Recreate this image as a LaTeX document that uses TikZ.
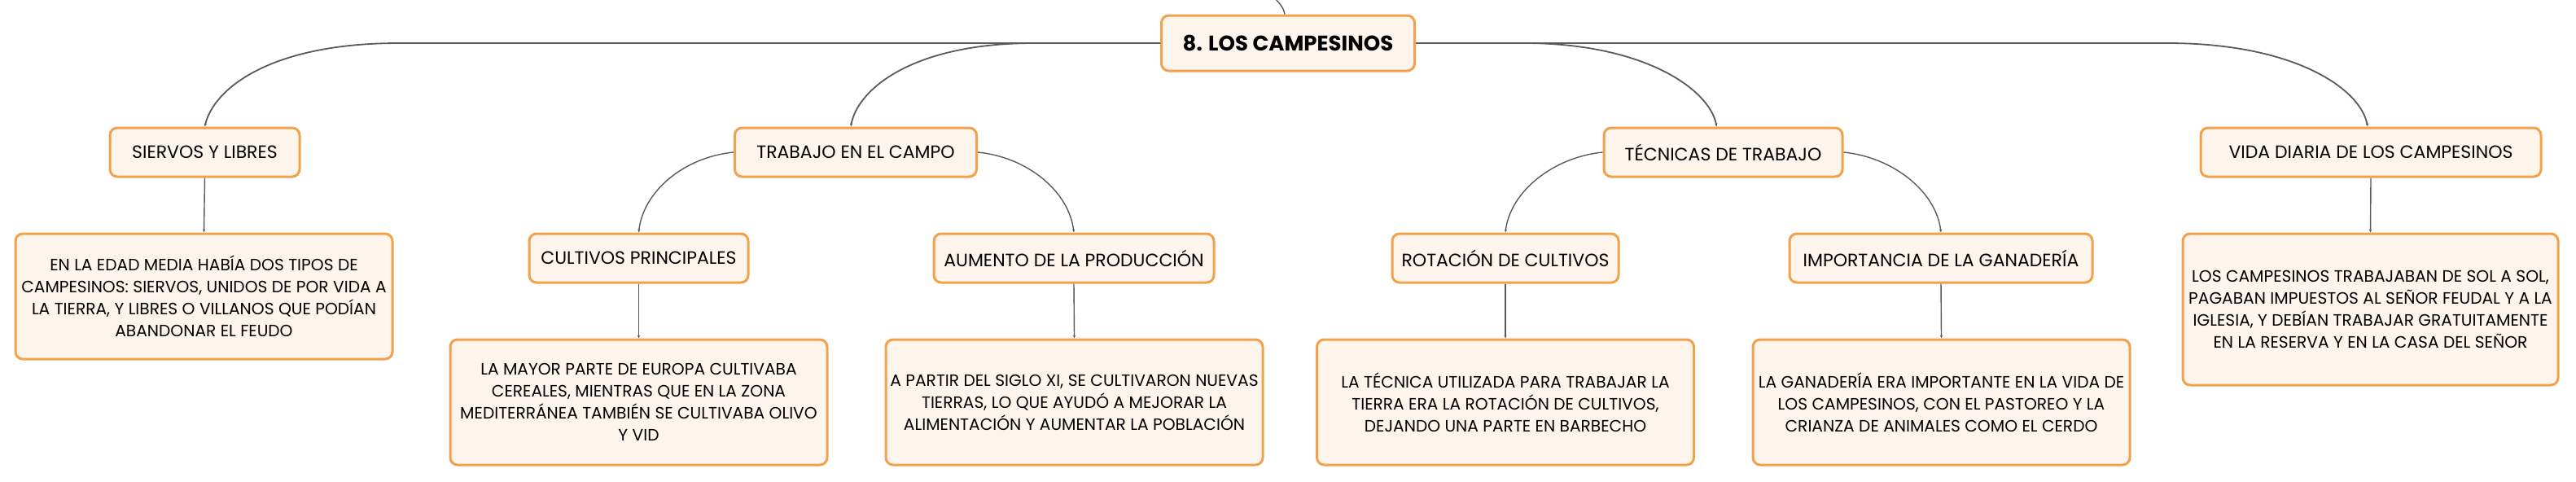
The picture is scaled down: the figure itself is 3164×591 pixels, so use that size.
\documentclass[tikz,border=0pt]{standalone}
\usepackage{fontspec}
\setmainfont{Poppins}
\usetikzlibrary{arrows.meta}
\definecolor{boxfill}{HTML}{FDF4EC}
\definecolor{boxline}{HTML}{F0A24C}
\definecolor{conncol}{HTML}{5A5A5A}
\tikzset{
  base/.style={draw=boxline, fill=boxfill, line width=1.5pt, rounded corners=4.5pt, align=center, inner sep=2pt, text=black},
  rootbox/.style={base, minimum width=155.5pt, minimum height=34pt, font=\fontsize{13}{15}\selectfont\bfseries},
  topic/.style={base, minimum height=30pt, font=\fontsize{11}{13}\selectfont},
  desc/.style={base, minimum width=231.5pt, minimum height=77pt, font=\fontsize{10.1}{13.5}\selectfont},
  conn/.style={draw=conncol, line width=0.7pt},
  mainconn/.style={draw=conncol, line width=0.9pt},
  tip/.style={-{Stealth[length=2pt,width=1.6pt]}}
}
\begin{document}
\begin{tikzpicture}[x=0.5pt,y=-0.5pt]
\useasboundingbox (0,0) rectangle (3164,591);
\clip (0,0) rectangle (3164,591);

\node[rootbox] (root) at (1582,53) {8. LOS CAMPESINOS};

\node[topic, minimum width=116.5pt] (sl) at (251.5,187) {SIERVOS Y LIBRES};
\node[desc] (sld) at (250.5,364) {EN LA EDAD MEDIA HABÍA DOS TIPOS DE\\CAMPESINOS: SIERVOS, UNIDOS DE POR VIDA A\\LA TIERRA, Y LIBRES O VILLANOS QUE PODÍAN\\ABANDONAR EL FEUDO};

\node[topic, minimum width=148.5pt] (tc) at (1051,187) {TRABAJO EN EL CAMPO};
\node[topic, minimum width=134.5pt] (cp) at (784.5,317) {CULTIVOS PRINCIPALES};
\node[desc] (cpd) at (784.5,494) {LA MAYOR PARTE DE EUROPA CULTIVABA\\CEREALES, MIENTRAS QUE EN LA ZONA\\MEDITERRÁNEA TAMBIÉN SE CULTIVABA OLIVO\\Y VID};
\node[topic, minimum width=172pt] (ap) at (1319,317) {AUMENTO DE LA PRODUCCIÓN};
\node[desc] (apd) at (1319.5,494) {A PARTIR DEL SIGLO XI, SE CULTIVARON NUEVAS\\TIERRAS, LO QUE AYUDÓ A MEJORAR LA\\ALIMENTACIÓN Y AUMENTAR LA POBLACIÓN};

\node[topic, minimum width=146.5pt] (tt) at (2116.5,187) {TÉCNICAS DE TRABAJO};
\node[topic, minimum width=139pt] (rc) at (1849,317) {ROTACIÓN DE CULTIVOS};
\node[desc] (rcd) at (1849,494) {LA TÉCNICA UTILIZADA PARA TRABAJAR LA\\TIERRA ERA LA ROTACIÓN DE CULTIVOS,\\DEJANDO UNA PARTE EN BARBECHO};
\node[topic, minimum width=186pt] (ig) at (2384,317) {IMPORTANCIA DE LA GANADERÍA};
\node[desc] (igd) at (2384.5,494) {LA GANADERÍA ERA IMPORTANTE EN LA VIDA DE\\LOS CAMPESINOS, CON EL PASTOREO Y LA\\CRIANZA DE ANIMALES COMO EL CERDO};

\node[topic, minimum width=209pt] (vd) at (2912,187) {VIDA DIARIA DE LOS CAMPESINOS};
\node[desc, minimum width=230.5pt, minimum height=93pt] (vdd) at (2911.5,380) {LOS CAMPESINOS TRABAJABAN DE SOL A SOL,\\PAGABAN IMPUESTOS AL SEÑOR FEUDAL Y A LA\\IGLESIA, Y DEBÍAN TRABAJAR GRATUITAMENTE\\EN LA RESERVA Y EN LA CASA DEL SEÑOR};

\coordinate (up) at (1562,-6);
\draw[conn] (up) .. controls (1572,4) and (1577,10) .. ([xshift=-2pt]root.north);

\draw[mainconn, tip] (root.west) -- (490,53) .. controls (330,53) and (262,110) .. (sl.north);
\draw[mainconn, tip] (root.west) -- (1270,53) .. controls (1120,53) and (1053,110) .. ([xshift=-3pt]tc.north);
\draw[mainconn, tip] (root.east) -- (1872,53) .. controls (2020,53) and (2100,110) .. ([xshift=-4pt]tt.north);
\draw[mainconn, tip] (root.east) -- (2662,53) .. controls (2820,53) and (2900,110) .. ([xshift=-2pt]vd.north);

\draw[conn, tip] (tc.west) .. controls (840,193) and (790,235) .. (cp.north);
\draw[conn, tip] (tc.east) .. controls (1262,193) and (1313,235) .. (ap.north);
\draw[conn, tip] (tt.west) .. controls (1908,193) and (1855,235) .. (rc.north);
\draw[conn, tip] (tt.east) .. controls (2325,193) and (2378,235) .. (ig.north);

\draw[conn, tip] (sl.south) -- (sld.north);
\draw[conn, tip] (cp.south) -- (cpd.north);
\draw[conn, tip] (ap.south) -- (apd.north);
\draw[conn, tip] (rc.south) -- (rcd.north);
\draw[conn, tip] (ig.south) -- (igd.north);
\draw[conn, tip] (vd.south) -- (vdd.north);
\end{tikzpicture}
\end{document}
